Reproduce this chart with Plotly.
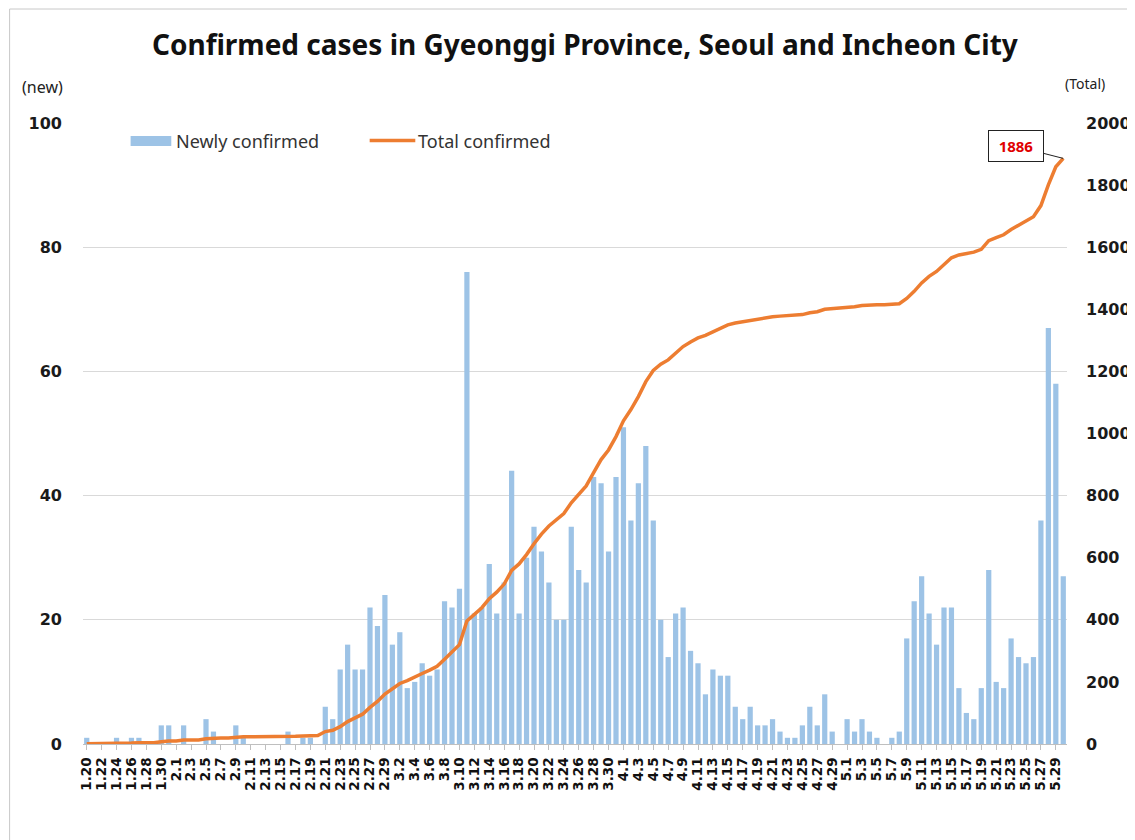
import pandas as pd
import plotly.graph_objects as go

# ---------------- data ----------------
dates = pd.date_range("2020-01-20", "2020-05-30", freq="D")
categories = [f"{d.month}.{d.day}" for d in dates]

newly_confirmed = [
    1, 0, 0, 0, 1, 0, 1, 1, 0, 0, 3, 3,                    # 1.20 - 1.31
    0, 3, 0, 0, 4, 2, 0, 0, 3, 1, 0, 0, 0, 0, 0, 2, 0, 1, 1, 0,  # 2.1 - 2.20
    6, 4, 12, 16, 12, 12, 22, 19, 24,                      # 2.21 - 2.29
    16, 18, 9, 10, 13, 11, 12, 23, 22, 25, 76, 21, 22, 29, 21, 26,
    44, 21, 30, 35, 31, 26, 20, 20, 35, 28, 26, 43, 42, 31, 43,   # 3.1 - 3.31
    51, 36, 42, 48, 36, 20, 14, 21, 22, 15, 13, 8, 12, 11, 11, 6,
    4, 6, 3, 3, 4, 2, 1, 1, 3, 6, 3, 8, 2, 0,              # 4.1 - 4.30
    4, 2, 4, 2, 1, 0, 1, 2, 17, 23, 27, 21, 16, 22, 22, 9,
    5, 4, 9, 28, 10, 9, 17, 14, 13, 14, 36, 67, 58, 27,    # 5.1 - 5.30
]

total_confirmed = [
    1, 1, 1, 1, 2, 2, 3, 4, 4, 4, 7, 10,
    10, 13, 13, 13, 17, 19, 19, 19, 22, 23, 23, 23, 23, 23, 23, 25, 25, 26, 27, 27,
    40, 44, 56, 72, 84, 96, 118, 137, 161,
    177, 195, 204, 214, 227, 238, 250, 273, 295, 320, 396, 417, 439, 468, 489, 515,
    559, 580, 610, 645, 676, 702, 722, 742, 777, 805, 831, 874, 916, 947, 990,
    1041, 1077, 1119, 1167, 1203, 1223, 1237, 1258, 1280, 1295, 1308, 1316, 1328, 1339, 1350, 1356,
    1360, 1366, 1369, 1372, 1376, 1378, 1379, 1380, 1383, 1389, 1392, 1400, 1402, 1402,
    1406, 1408, 1412, 1414, 1415, 1415, 1416, 1418, 1435, 1458, 1485, 1506, 1522, 1544, 1566, 1575,
    1580, 1584, 1593, 1621, 1631, 1640, 1657, 1671, 1684, 1698, 1734, 1801, 1859, 1886,
]

left_ticks = [0, 20, 40, 60, 80, 100]
right_ticks = [0, 200, 400, 600, 800, 1000, 1200, 1400, 1600, 1800, 2000]
title_text = "Confirmed cases in Gyeonggi Province, Seoul and Incheon City"
last_value_label = "1886"

# ---------------- styling ----------------
BAR_COLOR = "#9DC3E6"
LINE_COLOR = "#ED7D31"
GRID = "#D9D9D9"
TICK_FONT = dict(family="DejaVu Sans", size=16, color="#1a1a1a")

W, H = 1135, 840
OFF = 8  # page offset of the figure inside the browser window
# desired on-screen plot box
SX0, SX1, SY0, SY1 = 83, 1075, 123, 744
ML, MT = SX0 - OFF, SY0 - OFF
PW, PH = SX1 - SX0, SY1 - SY0
MR, MB = W - ML - PW, H - MT - PH


def px(xs):
    return (xs - SX0) / PW


def py(ys):
    return (SY1 - ys) / PH


fig = go.Figure()
fig.add_trace(go.Bar(x=categories, y=newly_confirmed, name="Newly confirmed",
                     marker=dict(color=BAR_COLOR, line=dict(width=0)), yaxis="y"))
fig.add_trace(go.Scatter(x=categories, y=total_confirmed, name="Total confirmed",
                         mode="lines", line=dict(color=LINE_COLOR, width=3.5),
                         yaxis="y2"))

fig.update_layout(
    width=W, height=H,
    margin=dict(l=ML, r=MR, t=MT, b=MB),
    paper_bgcolor="white", plot_bgcolor="white",
    showlegend=False,
    bargap=0.3,
    title=dict(text=f"<b>{title_text}</b>", x=px(589), xref="paper", xanchor="center",
               y=1 - (45 - OFF) / H, yref="container", yanchor="middle",
               font=dict(family="Noto Sans", size=28, color="#111111")),
    xaxis=dict(type="category", tickvals=categories[::2],
               ticktext=[f"<b>{c}</b>" for c in categories[::2]],
               tickangle=-90, tickfont=dict(family="DejaVu Sans", size=13.5, color="#111111"),
               ticks="outside", ticklen=5, tickcolor="#BFBFBF",
               showline=True, linecolor="#BFBFBF", linewidth=1,
               showgrid=False, range=[-0.5, len(categories) - 0.5],
               ticklabelstandoff=2),
    yaxis=dict(range=[0, 100], tickvals=left_ticks,
               ticktext=[f"<b>{v}</b>" for v in left_ticks],
               tickfont=TICK_FONT, showgrid=True, gridcolor=GRID, gridwidth=1,
               zeroline=False, showline=False, ticks="", ticklabelstandoff=20),
    yaxis2=dict(range=[0, 2000], tickvals=right_ticks,
                ticktext=[f"<b>{v}</b>" for v in right_ticks],
                tickfont=TICK_FONT, overlaying="y", side="right",
                showgrid=False, zeroline=False, showline=False, ticks="",
                ticklabelstandoff=18),
)

shapes = [
    # outer chart frame (partially visible in reference)
    dict(type="line", xref="paper", yref="paper", x0=px(9), x1=px(W + 20), y0=py(9), y1=py(9),
         line=dict(color="#C8C8C8", width=1)),
    dict(type="line", xref="paper", yref="paper", x0=px(9), x1=px(9), y0=py(9), y1=py(H + 20),
         line=dict(color="#C8C8C8", width=1)),
    # legend symbols
    dict(type="rect", xref="paper", yref="paper", x0=px(131), x1=px(172),
         y0=py(146), y1=py(136), fillcolor=BAR_COLOR, line=dict(width=0)),
    dict(type="line", xref="paper", yref="paper", x0=px(372), x1=px(418),
         y0=py(140.5), y1=py(140.5), line=dict(color=LINE_COLOR, width=3.5)),
]
fig.update_layout(shapes=shapes)

annotations = [
    dict(text="Newly confirmed", xref="paper", yref="paper", x=px(175), y=py(141),
         xanchor="left", yanchor="middle", showarrow=False,
         font=dict(family="Noto Sans", size=18, color="#333333")),
    dict(text="Total confirmed", xref="paper", yref="paper", x=px(419), y=py(141),
         xanchor="left", yanchor="middle", showarrow=False,
         font=dict(family="Noto Sans", size=18, color="#333333")),
    dict(text="(new)", xref="paper", yref="paper", x=px(19), y=py(87),
         xanchor="left", yanchor="middle", showarrow=False,
         font=dict(family="Noto Sans", size=16, color="#222222")),
    dict(text="(Total)", xref="paper", yref="paper", x=px(1071), y=py(84),
         xanchor="left", yanchor="middle", showarrow=False,
         font=dict(family="Noto Sans", size=14, color="#222222")),
    dict(text=f"<b>{last_value_label}</b>", x=len(categories) - 1, y=total_confirmed[-1],
         xref="x", yref="y2", showarrow=True, arrowhead=0, arrowwidth=1,
         arrowcolor="#222222", ax=-47, ay=-12,
         bordercolor="#222222", borderwidth=1, bgcolor="white",
         width=50, height=26, borderpad=2,
         font=dict(family="Noto Sans", size=15, color="#E00000")),
]
fig.update_layout(annotations=annotations)

fig.write_html("out.html")
